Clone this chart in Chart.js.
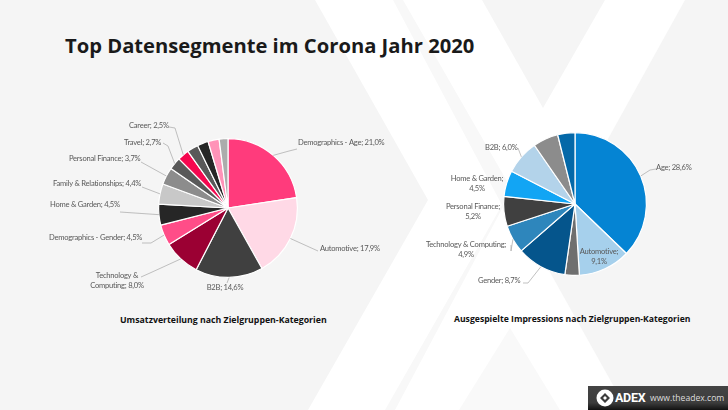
<!DOCTYPE html>
<html lang="de">
<head>
<meta charset="utf-8">
<title>Top Datensegmente</title>
<script src="https://cdn.jsdelivr.net/npm/chart.js@4/dist/chart.umd.min.js"></script>
<style>
    html, body { margin: 0; padding: 0; background: #fff; }
    body { position: relative; width: 728px; height: 410px; overflow: hidden; font-family: "Open Sans", sans-serif; }
    .bg { position: absolute; left: 0; top: 0; }
    canvas { position: absolute; }
    #revenueChart { left: 0; top: 100px; }
    #impressionsChart { left: 400px; top: 100px; }
    h1 { position: absolute; left: 65px; top: 30px; margin: 0; font-size: 20.2px; line-height: 30px; font-weight: 700; color: #1a1a1a; white-space: nowrap; }
    .caption { position: absolute; font-size: 8.75px; line-height: 14px; font-weight: 700; color: #111; white-space: nowrap; }
    .footer { position: absolute; left: 588px; top: 386px; width: 140px; height: 24px; background: linear-gradient(#444 0, #3c3c3c 70%, #111 100%); }
    .footer svg { position: absolute; left: 8px; top: 3px; }
    .footer .brand { position: absolute; left: 27px; top: 3px; font: 700 12.5px/18px Roboto, sans-serif; color: #fff; letter-spacing: -0.3px; }
    .footer .url { position: absolute; left: 62px; top: 4px; font-size: 8.6px; line-height: 16px; color: #ddd; }
</style>
</head>
<body>
<svg class="bg" width="728" height="410">
    <polygon points="0,0 315,0 428,200 308,410 0,410" fill="#f5f5f5"/>
    <polygon points="482,0 605,0 543,108" fill="#f5f5f5"/>
    <polygon points="685,0 728,0 728,410 627,410 542,258" fill="#f5f5f5"/>
    <polygon points="393,0 403,0 512,190 395,410 385,410 502,205" fill="#f8f8f8"/>
    <polygon points="510,328 560,410 459,410" fill="#f9f9f9"/>
</svg>

<h1>Top Datensegmente im Corona Jahr 2020</h1>

<canvas id="revenueChart" width="400" height="210"></canvas>
<canvas id="impressionsChart" width="328" height="210"></canvas>

<div class="caption" style="left:120px;top:313px">Umsatzverteilung nach Zielgruppen-Kategorien</div>
<div class="caption" style="left:454px;top:312px;font-size:8.65px">Ausgespielte Impressions nach Zielgruppen-Kategorien</div>

<div class="footer">
    <svg width="18" height="18" viewBox="0 0 18 18">
        <circle cx="9" cy="9" r="8.5" fill="#fff"/>
        <path d="M9 4 L14 9 L9 14 L4 9 Z M9 7 L7 9 L9 11 L11 9 Z" fill="#3c3c3c" fill-rule="evenodd"/>
    </svg>
    <span class="brand">ADEX</span>
    <span class="url">www.theadex.com</span>
</div>

<script>
// Label positions and leader bends are page coordinates, the line start comes from the slice
const revenueSegments = [
    { value: 21.0, color: '#ff3b7c', text: ['Demographics - Age; 21,0%'], x: 298, y: 143, align: 'left', leader: [[289, 151], [297, 149]] },
    { value: 17.9, color: '#ffd9e6', text: ['Automotive; 17,9%'], x: 320, y: 249, align: 'left', leader: [[318, 251]] },
    { value: 14.6, color: '#404040', text: ['B2B; 14,6%'], x: 225, y: 288, align: 'center', leader: [[227, 283]] },
    { value: 8.0, color: '#9b0033', text: ['Technology &', 'Computing; 8,0%'], x: 117, y: 276, align: 'center', leader: [[150, 273], [141, 277]] },
    { value: 4.5, color: '#ff4d88', text: ['Demographics - Gender; 4,5%'], x: 49, y: 238, align: 'left', leader: [[151, 243], [142, 243]] },
    { value: 4.5, color: '#262626', text: ['Home & Garden; 4,5%'], x: 50, y: 205, align: 'left', leader: [[120, 212]] },
    { value: 4.4, color: '#c8c8c8', text: ['Family & Relationships; 4,4%'], x: 53, y: 184, align: 'left', leader: [[142, 187]] },
    { value: 3.7, color: '#8c8c8c', text: ['Personal Finance; 3,7%'], x: 69, y: 159, align: 'left', leader: [[141, 162]] },
    { value: 2.7, color: '#595959', text: ['Travel; 2,7%'], x: 124, y: 143, align: 'left', leader: [[168, 146], [163, 143]] },
    { value: 2.5, color: '#f5074f', text: ['Career; 2,5%'], x: 129, y: 126, align: 'left', leader: [[175, 128], [169, 127]] },
    // the last four slices have no label in the picture
    { value: 2.4, color: '#595959' },
    { value: 2.4, color: '#262626' },
    { value: 2.4, color: '#ff93b8' },
    { value: 1.9, color: '#acacac' }
];

const impressionSegments = [
    { value: 28.6, color: '#0584d3', text: ['Age; 28,6%'], x: 656, y: 168, align: 'left', leader: [[650, 170], [656, 169]] },
    { value: 9.1, color: '#a6d0ec', text: ['Automotive;', '9,1%'], x: 599, y: 252, align: 'center' },
    { value: 2.5, color: '#6f6f6f' },
    { value: 8.7, color: '#05558c', text: ['Gender; 8,7%'], x: 478, y: 281, align: 'left', leader: [[528, 283], [523, 283]] },
    { value: 4.9, color: '#2e86bc', text: ['Technology & Computing;', '4,9%'], x: 466, y: 245, align: 'center', leader: [[511, 251], [511, 245]] },
    { value: 5.2, color: '#404040', text: ['Personal Finance;', '5,2%'], x: 473, y: 207, align: 'center' },
    { value: 4.5, color: '#12a5f4', text: ['Home & Garden;', '4,5%'], x: 477, y: 179, align: 'center' },
    { value: 6.0, color: '#b3d3ea', text: ['B2B; 6,0%'], x: 485, y: 148, align: 'left', leader: [[518, 148]] },
    { value: 4.4, color: '#8c8c8c' },
    { value: 3.0, color: '#0468a8' }
];

const sliceLabels = {
    id: 'sliceLabels',
    afterDatasetsDraw(chart) {
        const ctx = chart.ctx;
        const segments = chart.options.plugins.sliceLabels.segments;
        const offsetX = chart.canvas.offsetLeft;
        const offsetY = chart.canvas.offsetTop;

        ctx.save();
        ctx.font = '7.6px Lato';
        ctx.letterSpacing = '-0.25px';
        ctx.fillStyle = '#595959';
        ctx.textBaseline = 'middle';

        chart.getDatasetMeta(0).data.forEach((arc, i) => {
            const seg = segments[i];
            if (!seg.text) return;

            if (seg.leader) {
                const mid = (arc.startAngle + arc.endAngle) / 2;
                ctx.beginPath();
                ctx.moveTo(arc.x + Math.cos(mid) * arc.outerRadius, arc.y + Math.sin(mid) * arc.outerRadius);
                seg.leader.forEach(p => ctx.lineTo(p[0] - offsetX, p[1] - offsetY));
                ctx.strokeStyle = '#a6a6a6';
                ctx.lineWidth = 0.7;
                ctx.stroke();
            }

            ctx.textAlign = seg.align;
            seg.text.forEach((line, n) => {
                ctx.fillText(line, seg.x - offsetX, seg.y - offsetY + n * 9.2);
            });
        });
        ctx.restore();
    }
};

function createPie(canvasId, segments, padding) {
    return new Chart(document.getElementById(canvasId).getContext('2d'), {
        type: 'pie',
        data: {
            labels: segments.map(s => s.text ? s.text.join(' ') : ''),
            datasets: [{
                data: segments.map(s => s.value),
                backgroundColor: segments.map(s => s.color),
                borderColor: '#ffffff',
                borderWidth: 1.2
            }]
        },
        options: {
            responsive: false,
            animation: false,
            layout: { padding: padding },
            plugins: {
                legend: { display: false },
                tooltip: { enabled: false },
                sliceLabels: { segments: segments }
            }
        },
        plugins: [sliceLabels]
    });
}

createPie('revenueChart', revenueSegments, { left: 56, top: 38, bottom: 32 });
createPie('impressionsChart', impressionSegments, { left: 22, top: 32, bottom: 34 });
</script>
</body>
</html>
